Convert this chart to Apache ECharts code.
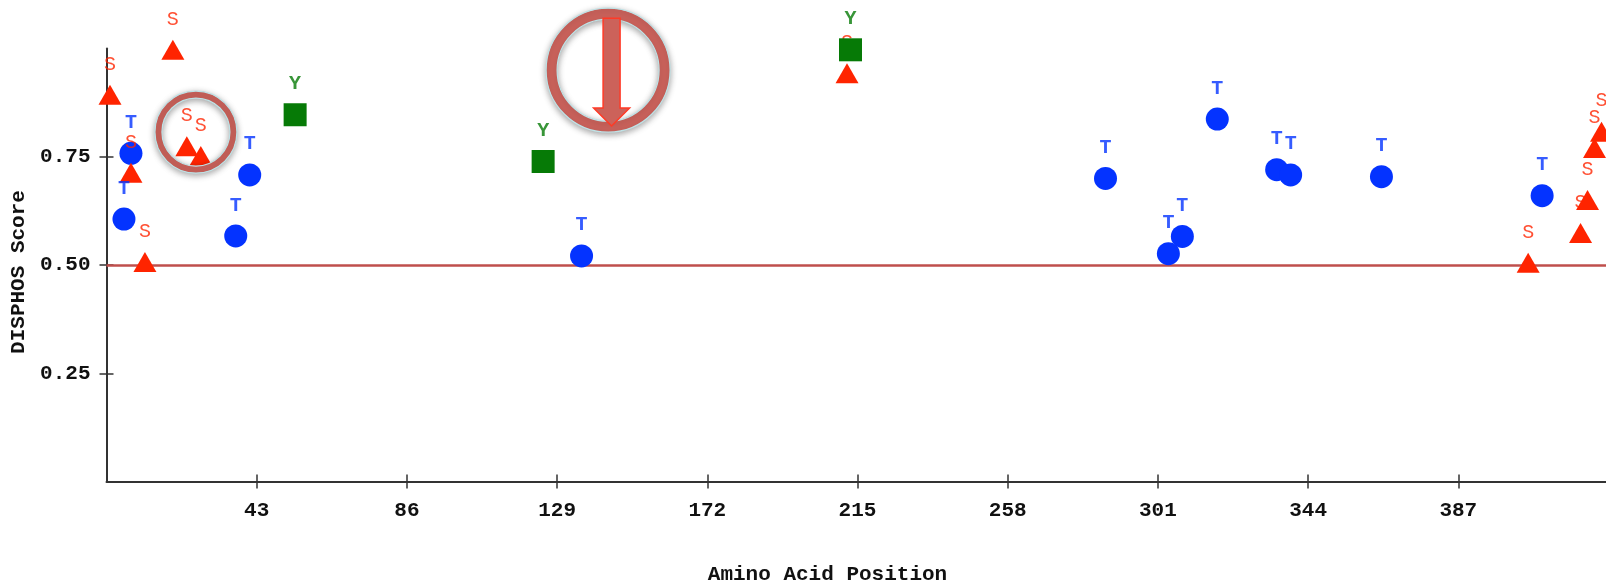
<!DOCTYPE html>
<html><head><meta charset="utf-8">
<script src="https://cdn.jsdelivr.net/npm/echarts@6/dist/echarts.min.js"></script>
<style>html,body{margin:0;padding:0;background:#fff}#c{width:1606px;height:581px}</style>
</head><body><div id="c"></div>
<script>
// ---- data ----
const sPositions = [1, 19, 7, 11, 23, 27, 212, 407, 422, 424, 426, 428];
const sScores    = [0.893, 0.997, 0.713, 0.507, 0.774, 0.752, 0.943, 0.505, 0.574, 0.650, 0.770, 0.808];
const tPositions = [7, 5, 41, 37, 136, 286, 304, 308, 318, 335, 339, 365, 411];
const tScores    = [0.758, 0.606, 0.708, 0.567, 0.521, 0.700, 0.526, 0.566, 0.837, 0.720, 0.708, 0.704, 0.660];
const yPositions = [54, 125, 213];
const yScores    = [0.847, 0.739, 0.997];
const xTicks = [43, 86, 129, 172, 215, 258, 301, 344, 387];
const yTicks = [0.25, 0.50, 0.75];
const threshold = 0.5;
const proteinLength = 430;
// annotation anchors (data coords)
const ring1 = {x: 25.6, y: 0.807};
const ring2 = {x: 143.6, y: 0.950};
const arrow = {x: 144.6, yTop: 1.07, yTip: 0.821};

const zip = (a, b) => a.map((v, i) => [v, b[i]]);
const FONT = '"Liberation Mono", "DejaVu Sans Mono", monospace';
const RED = '#ff2400', BLUE = '#0433ff', GREEN = '#067a06';

const chart = echarts.init(document.getElementById('c'), null, {renderer: 'canvas'});

const markerSeries = (name, symbol, size, color, data, z, extra) => Object.assign({
  name: name, type: 'scatter', symbol: symbol, symbolSize: size, z: z,
  itemStyle: {color: color, opacity: 1}, label: {show: false}, data: data
}, extra || {});
const labelSeries = (txt, color, weight, data, z) => ({
  name: txt + '-label', type: 'scatter', symbol: 'circle', symbolSize: 1, z: z, silent: true,
  itemStyle: {color: 'transparent'},
  label: {show: true, position: 'top', distance: 20, formatter: txt,
    color: color, fontFamily: FONT, fontSize: 20, fontWeight: weight},
  data: data
});

const tData = zip(tPositions, tScores), sData = zip(sPositions, sScores), yData = zip(yPositions, yScores);

chart.setOption({
  animation: false,
  backgroundColor: '#fff',
  grid: {left: 106.5, top: 48.5, width: 1502, height: 433, containLabel: false, outerBoundsMode: 'none'},
  xAxis: [{
    type: 'value', min: 0, max: proteinLength, interval: 43,
    name: 'Amino Acid Position', nameLocation: 'middle', nameGap: 83,
    nameTextStyle: {fontFamily: FONT, fontSize: 21, fontWeight: 'bold', color: '#111', padding: [0, 60, 0, 0]},
    axisLine: {show: true, onZero: false, lineStyle: {color: '#333', width: 2}},
    axisTick: {show: true, length: 7, customValues: xTicks, lineStyle: {color: '#333', width: 1.5}},
    axisLabel: {customValues: xTicks, margin: 19, fontFamily: FONT, fontSize: 21, fontWeight: 'bold', color: '#111'},
    splitLine: {show: false}
  }, {
    type: 'value', min: 0, max: proteinLength, interval: 43, position: 'bottom',
    axisLine: {show: false},
    axisTick: {show: true, inside: true, length: 7, customValues: xTicks, lineStyle: {color: '#333', width: 1.5}},
    axisLabel: {show: false}, splitLine: {show: false}
  }],
  yAxis: [{
    type: 'value', min: 0, max: 1, interval: 0.25,
    name: 'DISPHOS Score', nameLocation: 'middle', nameGap: 77, nameRotate: 90,
    nameTextStyle: {fontFamily: FONT, fontSize: 21, fontWeight: 'bold', color: '#111', padding: [0, 14, 0, 0]},
    axisLine: {show: true, onZero: false, lineStyle: {color: '#333', width: 2}},
    axisTick: {show: true, length: 7, customValues: yTicks, lineStyle: {color: '#333', width: 1.5}},
    axisLabel: {customValues: yTicks, margin: 16, fontFamily: FONT, fontSize: 21, fontWeight: 'bold', color: '#111',
      formatter: v => v.toFixed(2)},
    splitLine: {show: false}
  }, {
    type: 'value', min: 0, max: 1, interval: 0.25, position: 'left',
    axisLine: {show: false},
    axisTick: {show: true, inside: true, length: 7, customValues: yTicks, lineStyle: {color: '#333', width: 1.5}},
    axisLabel: {show: false}, splitLine: {show: false}
  }],
  series: [
    markerSeries('T', 'circle', 23, BLUE, tData, 2, {
      markLine: {
        silent: true, symbol: 'none', label: {show: false}, z: 1,
        lineStyle: {color: '#bf4f4c', width: 2.5, type: 'solid'},
        data: [{yAxis: threshold}]
      }
    }),
    labelSeries('S', RED, 'normal', sData, 3),
    markerSeries('S', 'triangle', [23, 20], RED, sData, 4),
    labelSeries('T', BLUE, 'bold', tData, 5),
    labelSeries('Y', GREEN, 'bold', yData, 6),
    markerSeries('Y', 'rect', 23, GREEN, yData, 7)
  ]
});

// annotation overlay positioned from data coordinates
const px = (x, y) => chart.convertToPixel({gridIndex: 0}, [x, y]);
const c1 = px(ring1.x, ring1.y), c2 = px(ring2.x, ring2.y);
const aTop = px(arrow.x, arrow.yTop), aTip = px(arrow.x, arrow.yTip);
const ax = aTop[0], shaftHalf = 8.5, headHalf = 18, headLen = 18;
const ringStyle = {fill: '#cc635c', stroke: '#bfe2e6', lineWidth: 1.2,
  shadowBlur: 6, shadowColor: 'rgba(0,0,0,0.35)', shadowOffsetY: 2};
chart.setOption({
  graphic: [
    {type: 'ring', z: 100, shape: {cx: c1[0], cy: c1[1], r: 41, r0: 34}, style: ringStyle},
    {type: 'ring', z: 101, shape: {cx: c2[0], cy: c2[1], r: 62, r0: 51}, style: ringStyle},
    {type: 'polygon', z: 102, shape: {points: [
      [ax - shaftHalf, aTop[1]], [ax + shaftHalf, aTop[1]], [ax + shaftHalf, aTip[1] - headLen],
      [ax + headHalf, aTip[1] - headLen], [ax, aTip[1]], [ax - headHalf, aTip[1] - headLen],
      [ax - shaftHalf, aTip[1] - headLen]
    ]}, style: {fill: '#cc625a', stroke: '#ff3a26', lineWidth: 1.5}}
  ]
});
</script>
</body></html>
